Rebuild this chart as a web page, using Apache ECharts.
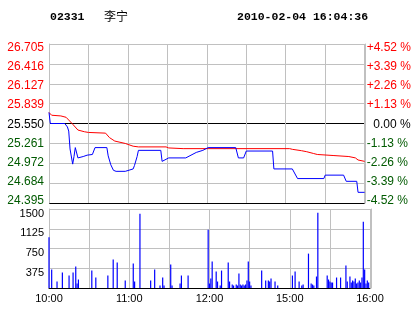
<!DOCTYPE html>
<html><head><meta charset="utf-8">
<script src="https://cdn.jsdelivr.net/npm/echarts@6/dist/echarts.min.js"></script>
<style>html,body{margin:0;padding:0;background:#fff}#c{width:414px;height:314px}</style>
</head><body><div id="c"></div>
<script>
const stockCode = '02331';
const stockName = '李宁';
const stamp = '2010-02-04 16:04:36';
const prevClose = 25.55;
const priceLabels = ['24.395','24.684','24.972','25.261','25.550','25.839','26.127','26.416','26.705'];
const pctLabels = ['-4.52 %','-3.39 %','-2.26 %','-1.13 %','  0.00 %','+1.13 %','+2.26 %','+3.39 %','+4.52 %'];
const timeLabels = ['10:00','11:00','12:00','15:00','16:00'];
const timeLabelMinutes = [0,60,120,180,240];
const volTickLabels = ['','375','750','1125','1500'];

const priceMinutes = [0,1,12,14,15,16,18,19,20,22,26,29,33,35,44,45,47,49,51,58,64,65,67,68,85,86,87,91,104,112,117,121,142,144,148,150,170,171,185,189,209,210,224,226,234,235,240];
const prices = [25.71,25.55,25.55,25.50,25.44,25.18,24.96,25.07,25.20,25.05,25.07,25.09,25.10,25.20,25.20,25.08,24.95,24.87,24.855,24.855,24.89,24.94,25.07,25.16,25.16,25.00,25.02,25.05,25.05,25.13,25.16,25.20,25.20,25.05,25.05,25.15,25.15,24.89,24.89,24.75,24.75,24.80,24.80,24.71,24.71,24.55,24.55];

const avgMinutes = [0,2,9,13,15,18,22,27,30,43,46,50,58,64,68,89,91,102,183,185,192,196,201,204,216,228,233,235,240];
const avgPrices = [25.71,25.67,25.66,25.64,25.60,25.54,25.455,25.43,25.42,25.41,25.345,25.295,25.26,25.22,25.21,25.21,25.195,25.185,25.185,25.175,25.155,25.14,25.115,25.10,25.085,25.07,25.05,25.02,25.00];

const volMinutes = [0,2,6,10,15,18,20,21,22,32,35,44,48,51,57,63,64,68,76,79,83,85,86,91,92,98,99,104,119,120,121,122,125,126,128,129,134,135,137,138,140,141,142,143,144,145,146,147,148,149,150,151,159,162,164,165,166,169,171,182,184,187,189,190,194,196,197,198,200,201,208,209,210,211,212,215,218,222,223,225,226,227,228,229,230,231,232,233,234,235,236,237,238,239];
const volumes = [962,350,123,294,237,294,407,85,161,331,199,237,540,483,142,464,123,1411,142,350,47,199,47,445,47,85,237,237,1108,85,180,502,313,123,47,331,483,123,66,47,66,47,275,66,47,66,47,66,142,502,123,47,331,142,142,123,180,123,47,237,313,123,47,66,653,85,66,47,218,1430,237,161,123,104,104,199,199,426,123,218,104,142,123,180,85,104,142,104,199,1260,350,85,142,104];

const RED = '#ff0000', GREEN = '#005a00', BLACK = '#000000', GRID = '#c0c0c0', BLUE = '#0000ff';
const pctStep = 1.13, pctMax = 4.52;
const tickIdx = v => Math.round((+v + pctMax) / pctStep);
const splitColors = priceLabels.map((_, i) => (i === 0 || i === 4) ? BLACK : GRID);

// per-label rich styles: colour by side of previous close, small vertical nudge like the original widget
const labelFont = {fontFamily: 'Liberation Sans', fontSize: 12};
const priceRich = {};
priceLabels.forEach((_, i) => {
  const k = priceLabels.length - 1 - i;           // 0 = top line
  const s = 3.5 - 0.675 * k;                       // px, + = down
  priceRich['p' + i] = Object.assign({}, labelFont, {
    color: i > 4 ? RED : (i === 4 ? BLACK : GREEN),
    padding: s >= 0 ? [2 * s, 0, 0, 0] : [0, 0, -2 * s, 0]
  });
});
const richLabel = labels => v => { const i = tickIdx(v); return labels[i] !== undefined ? '{p' + i + '|' + labels[i] + '}' : ''; };

const chart = echarts.init(document.getElementById('c'), null, {renderer: 'canvas'});
const titleFont = {fontFamily: 'Liberation Mono', fontWeight: 'bold', fontSize: 11.5, color: BLACK};
chart.setOption({
  animation: false,
  backgroundColor: '#fff',
  title: [
    {text: stockCode, left: 50, top: 11, padding: 0, textStyle: titleFont},
    {text: stockName, left: 104, top: 10, padding: 0, textStyle: {fontFamily: 'Noto Sans CJK SC', fontWeight: 'normal', fontSize: 12, color: BLACK}},
    {text: stamp, left: 237, top: 11, padding: 0, textStyle: titleFont}
  ],
  grid: [
    {left: 49, top: 44, width: 321, height: 159},
    {left: 49, top: 209, width: 321, height: 79}
  ],
  xAxis: [
    {gridIndex: 0, type: 'value', min: 0, max: 240, interval: 30,
     axisLine: {show: false}, axisTick: {show: false}, axisLabel: {show: false},
     splitLine: {show: true, lineStyle: {color: GRID, width: 1}}},
    {gridIndex: 1, type: 'value', min: 0, max: 240, interval: 30,
     axisLine: {show: true, onZero: false, lineStyle: {color: BLACK, width: 1}}, axisTick: {show: false},
     axisLabel: {show: true, margin: 5, fontFamily: 'Liberation Sans', fontSize: 11, color: BLACK,
       formatter: v => { const i = timeLabelMinutes.indexOf(Math.round(v)); return i >= 0 ? timeLabels[i] : ''; }},
     splitLine: {show: true, lineStyle: {color: GRID, width: 1}}}
  ],
  yAxis: [
    {gridIndex: 0, type: 'value', position: 'left', min: -pctMax, max: pctMax, interval: pctStep,
     axisLine: {show: true, lineStyle: {color: GRID}}, axisTick: {show: false},
     axisLabel: {margin: 5, formatter: richLabel(priceLabels), rich: priceRich},
     splitLine: {show: true, lineStyle: {color: splitColors, width: 1}}},
    {gridIndex: 0, type: 'value', position: 'right', offset: 1, min: -pctMax, max: pctMax, interval: pctStep,
     axisLine: {show: true, lineStyle: {color: GRID}}, axisTick: {show: false},
     axisLabel: {margin: 1, formatter: richLabel(pctLabels), rich: priceRich},
     splitLine: {show: false}},
    {gridIndex: 0, type: 'value', min: prevClose * (1 - pctMax / 100), max: prevClose * (1 + pctMax / 100), show: false, splitLine: {show: false}},
    {gridIndex: 1, type: 'value', position: 'left', min: 0, max: 1500, interval: 375,
     axisLine: {show: true, lineStyle: {color: GRID}}, axisTick: {show: false},
     axisLabel: {margin: 5, formatter: v => { const t = volTickLabels[Math.round(v / 375)]; return t ? '{v|' + t + '}' : ''; },
       rich: {v: {fontFamily: 'Liberation Sans', fontSize: 11, color: BLACK, padding: [9, 0, 0, 0]}}},
     splitLine: {show: true, lineStyle: {color: GRID, width: 1}}},
    {gridIndex: 1, type: 'value', position: 'right', offset: 1, min: 0, max: 1500, interval: 375,
     axisLine: {show: true, lineStyle: {color: GRID}}, axisTick: {show: false}, axisLabel: {show: false},
     splitLine: {show: false}}
  ],
  series: [
    {type: 'line', xAxisIndex: 0, yAxisIndex: 2, symbol: 'none', z: 3,
     lineStyle: {color: RED, width: 1}, itemStyle: {color: RED},
     data: avgMinutes.map((m, i) => [m, avgPrices[i]])},
    {type: 'line', xAxisIndex: 0, yAxisIndex: 2, symbol: 'none', z: 4,
     lineStyle: {color: BLUE, width: 1}, itemStyle: {color: BLUE},
     data: priceMinutes.map((m, i) => [m, prices[i]])},
    {type: 'bar', xAxisIndex: 1, yAxisIndex: 3, barWidth: 1.2, itemStyle: {color: BLUE},
     data: volMinutes.map((m, i) => [m, volumes[i]])}
  ]
});
</script></body></html>
